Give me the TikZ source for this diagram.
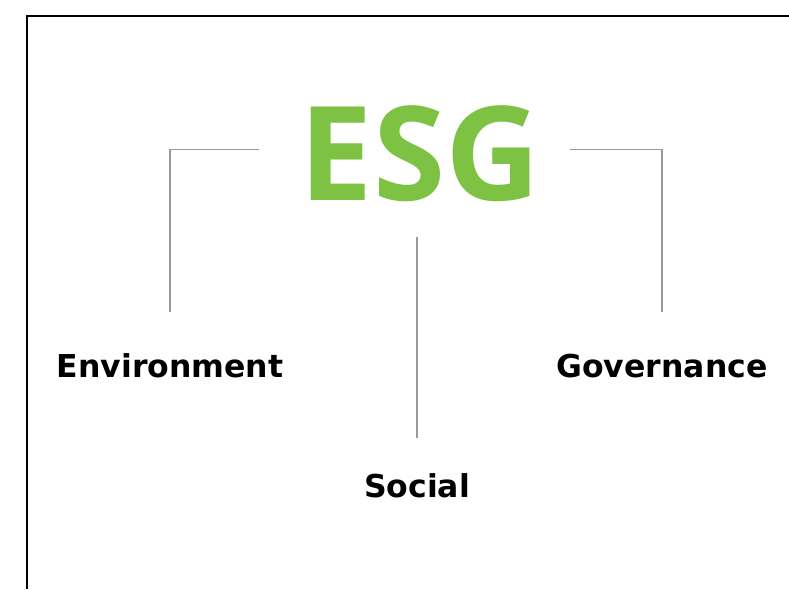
\documentclass[tikz,border=0pt]{standalone}
\usepackage{fontspec}
\newfontfamily\esgfont{Open Sans}
\newfontfamily\labelfont{DejaVu Sans}
\usepackage{xcolor}
\usepackage{tikz}
\usetikzlibrary{positioning}

\definecolor{esggreen}{HTML}{7DC242}
\definecolor{branchgray}{HTML}{9A9A9A}

\begin{document}
\begin{tikzpicture}[x=1pt, y=-1pt,
    esg/.style={text=esggreen, font=\esgfont\fontsize{131}{131}\selectfont\bfseries, inner sep=0pt},
    pillar/.style={font=\labelfont\fontsize{31.5}{31.5}\selectfont\bfseries, inner sep=0pt},
    branch/.style={draw=branchgray, line width=1.1pt}]
    \useasboundingbox (0,0) rectangle (789,589);
    \draw[line width=1.2pt] (27,589) -- (27,16) -- (789,16);

    \node[esg, anchor=base] (esg) at (420,200) {ESG};
    \node[pillar, anchor=base] (env) at (170,377) {Environment};
    \node[pillar, anchor=base] (soc) at (417,497) {Social};
    \node[pillar, anchor=base] (gov) at (662,377) {Governance};

    \path (soc.north |- esg.south) coordinate (esgfoot);
    \draw[branch] ([xshift=-41pt, yshift=4pt]esg.west) -| ([yshift=41pt]env.north);
    \draw[branch] ([xshift=30pt, yshift=4pt]esg.east) -| ([yshift=41pt]gov.north);
    \draw[branch] ([yshift=-36pt]esgfoot) -- ([yshift=35pt]soc.north);
\end{tikzpicture}
\end{document}
